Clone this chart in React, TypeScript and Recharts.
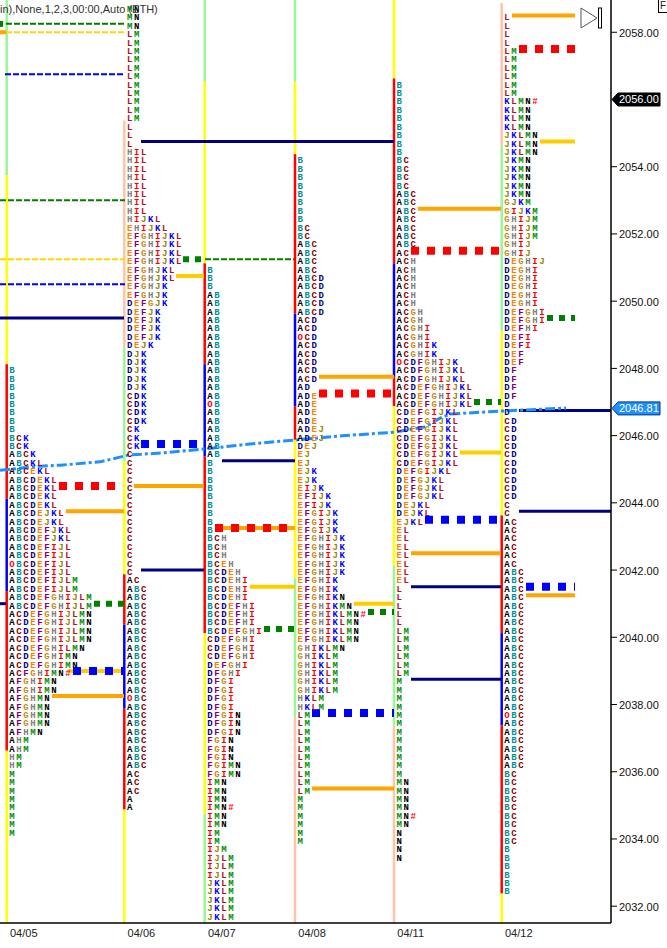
import { ComposedChart, Line, ReferenceLine, Scatter, XAxis, YAxis } from 'recharts';

const TICK_SIZE = 0.25;
const COLUMN = 7;

// x axis runs in chart units, one letter column is 7 units wide
const sessionDates = ['04/05', '04/06', '04/07', '04/08', '04/11', '04/12'];
const sessionStarts = [6.7, 124.3, 204.7, 295, 394, 501.7];
const priceTicks = [2032, 2034, 2036, 2038, 2040, 2042, 2044, 2046, 2046.81, 2048, 2050, 2052, 2054, 2056, 2058];
const tagColors: Record<string, string> = { '2056': '#000000', '2046.81': '#1e90ff' };

const letterColors: Record<string, string> = {
  A: '#000000', B: '#008f9c', C: '#8b0000', D: '#00008b', E: '#ff8000', F: '#800080', G: '#c88a10',
  H: '#808080', I: '#ff0000', J: '#8f8600', K: '#0000ff', L: '#b0102c', M: '#009000', N: '#000000',
  O: '#ff0000', '#': '#ff0000',
};

// Profile rows from the top price down: [letters, how many rows in a row]
const sessionTops = [2048, 2058.75, 2051, 2054.25, 2056.5, 2058.5];
const profile1: [string, number][] = [
  ['B', 8], ['BCK', 2], ['ABCK', 1], ['ABCKL', 1], ['ABCEKL', 1], ['ABCDEKL', 4], ['ABCDEJKL', 2], ['ABCDEFJKL', 2],
  ['ABCDEFIJL', 2], ['OBCDEFIJL', 1], ['ABCDEFIJL', 1], ['ABCDEFIJLM', 2], ['ABCDEFGHIJLM', 2], ['ACDEFGHIJLMN', 4],
  ['ACDEFGHILMN', 1], ['ACDEFGHIMN', 2], ['ACFGHIMN#', 1], ['AFGHIMN', 2], ['AFGHMN', 4], ['AFHMN', 1], ['AHM', 2],
  ['HM', 2], ['M', 8],
];
const profile2: [string, number][] = [
  ['MN', 3], ['LM', 11], ['L', 3], ['HIL', 8], ['HIJKL', 1], ['EHIJKL', 1], ['EFGHIJKL', 4], ['EFGHJKL', 2], ['EFGHJK', 2],
  ['DEFGJK', 1], ['DEFJK', 4], ['DEJK', 1], ['DJK', 5], ['CDK', 4], ['CK', 3],
  ['C', 15], ['AC', 1], ['ABC', 13], ['OBC', 1], ['ABC', 8], ['AC', 3], ['A', 2],
];
const profile3: [string, number][] = [
  ['B', 3], ['AB', 13], ['OB', 1], ['AB', 6], ['B', 9], ['BCH', 3], ['BCEH', 1], ['BCDEH', 1], ['BCDEHI', 3], ['BCDEFHI', 3],
  ['BCDEFGHI', 1], ['CDEFGHI', 3], ['DEFGHI', 1], ['DFGHI', 1], ['DFGI', 4], ['DFGIN', 3], ['FGIN', 3], ['FGIMN', 2],
  ['IMN', 3], ['IMN#', 1], ['IMN', 2], ['IM', 2], ['IJM', 1], ['IJLM', 3], ['JKLM', 5],
];
const profile4: [string, number][] = [
  ['B', 8], ['BC', 2], ['ABC', 4], ['ABCD', 5], ['ACD', 2], ['OCD', 1], ['ACD', 5], ['AD', 1], ['ADE', 4], ['ADEJ', 2],
  ['DEJ', 1], ['EJ', 2], ['EJK', 2], ['EIJK', 1], ['EFIJK', 2], ['EFGIJK', 3], ['EFGHIJK', 5], ['EFGHIK', 2], ['EFGHIKN', 1],
  ['EFGHIKMN', 1], ['EFGHIKLMN#', 1], ['EFGHIKLMN', 3], ['GHIKLMN', 1], ['GHIKLM', 5], ['HKLM', 2], ['LM', 10], ['M', 6],
];
const profile5: [string, number][] = [
  ['B', 9], ['BC', 4], ['ABC', 7], ['AC', 1], ['ACH', 6], ['ACGH', 2], ['ACGHI', 2], ['ACGHIK', 2], ['OCDFGHIJK', 1],
  ['ACDFGHIJKL', 2], ['ACDEFGHIJKL', 3], ['CDEFGIJKL', 7], ['DEFGIJKL', 1], ['DEFGJKL', 3], ['DEJKL', 2], ['EJKL', 1],
  ['EL', 7], ['L', 5], ['LM', 6], ['M', 12], ['MN', 4], ['MN#', 1], ['MN', 1], ['N', 4],
];
const profile6: [string, number][] = [
  ['L', 4], ['LM', 6], ['KLMN#', 1], ['KLMN', 3], ['JKLMN', 3], ['JKMN', 5], ['GJKM', 1], ['GIJKM', 1], ['GHIJM', 3], ['GHIJ', 2],
  ['DEGHIJ', 1], ['DEGHI', 5], ['DEFGHI', 2], ['DEFHI', 1], ['DEFI', 2], ['DEF', 2], ['DF', 4], ['D', 2], ['CD', 10], ['C', 2],
  ['AC', 6], ['ABC', 17], ['OBC', 1], ['ABC', 6], ['BC', 9], ['B', 6],
];
const profiles = [profile1, profile2, profile3, profile4, profile5, profile6];

// Coloured session bars: prices where the colour changes, then the colours
const barBreaks = [
  [2059, 2053.75, 2048.125, 2044.125, 2041.375, 2036.625, 2031.5],
  [2055.375, 2048.625, 2045.25, 2041.875, 2040.375, 2037.875, 2034.875, 2031.5],
  [2059, 2056.53, 2051.125, 2048.125, 2045.375, 2040.125, 2034.75, 2031.5],
  [2059, 2056.53, 2054.375, 2049.625, 2046.875, 2045.875, 2041.75, 2037.625, 2031.5],
  [2059, 2056.625, 2051.125, 2047.75, 2046.875, 2042.125, 2037.375, 2031.5],
  [2058.875, 2054.625, 2049.125, 2043.625, 2040.125, 2037.375, 2032.375, 2031.5],
];
const PEACH = '#ffc4a8';
const PALE = '#98f898';
const YEL = '#ffff00';
const RED = '#ff0000';
const BLU = '#0000ff';
const barColors = [
  [PALE, YEL, RED, BLU, RED, YEL],
  [PEACH, PALE, YEL, RED, BLU, RED, YEL],
  [PALE, YEL, RED, BLU, RED, YEL, PALE],
  [PALE, YEL, RED, BLU, RED, YEL, PALE, PEACH],
  [YEL, RED, BLU, RED, YEL, PALE, PEACH],
  [PEACH, PALE, YEL, RED, BLU, RED, YEL],
];

// Levels: [price, from x, to x]
type Level = [number, number, number];
const navyLevels: Level[] = [
  [2049.5, 0, 124], [2041, 0, 6], [2054.75, 141, 394], [2042, 141, 204], [2045.25, 222, 295], [2041.5, 411, 501],
  [2038.75, 411, 501], [2046.75, 519, 611], [2043.75, 519, 611],
];
const orangeLevels: Level[] = [
  [2058, 0, 6], [2043.75, 66, 124], [2038.25, 52, 124], [2044.5, 134, 204], [2043.25, 215, 295], [2047.75, 319, 394],
  [2035.5, 312, 394], [2052.75, 418, 501], [2042.5, 411, 501], [2058.5, 512, 575], [2041.25, 526, 575],
];
const goldLevels: Level[] = [
  [2039, 68, 124], [2050.75, 176, 204], [2041.5, 250, 295], [2041, 354, 394], [2045.5, 460, 501], [2054.75, 540, 575],
];
const redSquares: Level[] = [
  [2044.5, 59, 115], [2043.25, 215, 287], [2047.25, 319, 391], [2051.5, 411, 499], [2057.5, 519, 575],
];
const blueSquares: Level[] = [
  [2039, 73, 124], [2045.75, 141, 197], [2037.75, 312, 394], [2043.5, 425, 497], [2041.5, 526, 575],
];
const greenSquares: Level[] = [
  [2058.25, 0, 3], [2041, 94, 124], [2051.25, 183, 204], [2040.25, 264, 295], [2040.75, 368, 394], [2047, 474, 501],
  [2049.5, 547, 575],
];
const greenDashes: Level[] = [[2058.25, 6, 125], [2053, 0, 125], [2051.25, 205, 294]];
const goldDashes: Level[] = [[2058, 6, 125], [2051.25, 0, 125]];
const blueDashes: Level[] = [[2056.75, 5, 125], [2050.5, 0, 125]];

const vwapX = [0, 40, 60, 100, 120, 128, 165, 204, 250, 295, 345, 394, 425, 440, 450, 500, 566];
const vwapPrice = [
  2044.97, 2045.09, 2045.12, 2045.22, 2045.36, 2045.42, 2045.49, 2045.6, 2045.75, 2045.87, 2046, 2046.1, 2046.26, 2046.52,
  2046.64, 2046.73, 2046.82,
];

const letterPoints = profiles.flatMap((rows, s) => {
  let price = sessionTops[s];
  return rows.flatMap(([letters, count]) => {
    const out: { x: number; y: number; letter: string }[] = [];
    for (let r = 0; r < count; r++) {
      letters.split('').forEach((letter, i) => {
        out.push({ x: sessionStarts[s] + 5.3 + i * COLUMN, y: price, letter });
      });
      price -= TICK_SIZE;
    }
    return out;
  });
});
const vwapData = vwapX.map((x, i) => ({ x, y: vwapPrice[i] }));

function LetterMark(props: any) {
  const { cx, cy, payload } = props;
  return (
    <text
      x={cx}
      y={cy + 5}
      textAnchor="middle"
      fontFamily="'Liberation Mono'"
      fontWeight={700}
      fontSize={9}
      fill={letterColors[payload.letter]}
    >
      {payload.letter}
    </text>
  );
}

function PriceTick(props: any) {
  const { x, y, payload } = props;
  const tag = tagColors[String(payload.value)];
  if (tag) {
    return (
      <g>
        <polygon
          points={`${x + 1},${y} ${x + 7},${y - 6.5} ${x + 49},${y - 6.5} ${x + 49},${y + 6.5} ${x + 7},${y + 6.5}`}
          fill={tag}
          stroke={tag === '#000000' ? '#000000' : '#003a80'}
        />
        <text x={x + 8} y={y + 4} fontFamily="'Liberation Sans'" fontSize={11} fill="#ffffff">
          {payload.value.toFixed(2)}
        </text>
      </g>
    );
  }
  return (
    <g>
      <line x1={x} x2={x + 6} y1={y} y2={y} stroke="#000000" />
      <text x={x + 8} y={y + 4.5} fontFamily="'Liberation Sans'" fontSize={11} fill="#111111">
        {payload.value.toFixed(2)}
      </text>
    </g>
  );
}

function DateTick(props: any) {
  const { x, y, payload, index } = props;
  return (
    <text x={x + 3.3} y={y + 14} fontFamily="'Liberation Sans'" fontSize={11} fill="#222222">
      {sessionDates[index] ?? payload.value}
    </text>
  );
}

function levelLines(levels: Level[], name: string, stroke: string, width: number, dash?: string) {
  return levels.map(([price, from, to]) => (
    <ReferenceLine
      key={`${name}-${price}-${from}`}
      segment={[{ x: from, y: price }, { x: to, y: price }]}
      stroke={stroke}
      strokeWidth={width}
      strokeDasharray={dash}
      ifOverflow="visible"
    />
  ));
}

export default function App() {
  return (
    <div style={{ position: 'absolute', left: 0, top: 0, width: 667, height: 948, background: '#ffffff', overflow: 'hidden' }}>
      <ComposedChart width={667} height={948} margin={{ top: 0, right: 0, bottom: 0, left: 0 }}>
        <XAxis
          type="number"
          dataKey="x"
          domain={[0, 611]}
          allowDataOverflow
          ticks={sessionStarts}
          interval={0}
          tick={<DateTick />}
          tickLine={false}
          tickSize={0}
          tickMargin={0}
          height={25}
          axisLine={{ stroke: '#000000', strokeWidth: 1.5 }}
        />
        <YAxis
          type="number"
          dataKey="y"
          orientation="right"
          domain={[2031.5, 2058.96]}
          allowDataOverflow
          ticks={priceTicks}
          interval={0}
          tick={<PriceTick />}
          tickLine={false}
          tickSize={0}
          tickMargin={0}
          width={56}
          axisLine={{ stroke: '#000000', strokeWidth: 1.5 }}
        />
        {barColors.flatMap((colors, s) =>
          colors.map((color, i) => (
            <ReferenceLine
              key={`bar-${s}-${i}`}
              segment={[
                { x: sessionStarts[s], y: barBreaks[s][i] },
                { x: sessionStarts[s], y: barBreaks[s][i + 1] },
              ]}
              stroke={color}
              strokeWidth={2.5}
              ifOverflow="visible"
            />
          )),
        )}
        {levelLines(greenDashes, 'gd', '#008000', 2, '6 2')}
        {levelLines(goldDashes, 'yd', '#ffd700', 2, '6 2')}
        {levelLines(blueDashes, 'bd', '#0000ff', 2, '6 2')}
        {levelLines(navyLevels, 'navy', '#000080', 3)}
        {levelLines(orangeLevels, 'orange', '#ffa500', 4)}
        {levelLines(goldLevels, 'gold', '#ffcc00', 4)}
        {levelLines(greenSquares, 'gs', '#008000', 6, '6 6')}
        {levelLines(redSquares, 'rs', '#ff0000', 8, '8 8')}
        {levelLines(blueSquares, 'bs', '#0000ff', 8, '8 8')}
        <Scatter data={letterPoints} shape={<LetterMark />} isAnimationActive={false} />
        <Line
          data={vwapData}
          dataKey="y"
          dot={false}
          activeDot={false}
          stroke="#1e90ff"
          strokeWidth={3}
          strokeDasharray="10 3 3 3"
          isAnimationActive={false}
        />
      </ComposedChart>
      <div style={{ position: 'absolute', left: 0, top: 3, fontFamily: "'Liberation Sans'", fontSize: 11, color: '#333333', whiteSpace: 'nowrap' }}>
        in),None,1,2,3,00:00,Auto (ETH)
      </div>
      <svg width={24} height={24} style={{ position: 'absolute', left: 580, top: 6 }}>
        <polygon points="1,2 17,12 1,22" fill="#ffffff" stroke="#555555" />
        <rect x={18.5} y={2} width={3} height={20} fill="#ffffff" stroke="#000000" />
      </svg>
      <div style={{ position: 'absolute', left: 658, top: -1, width: 12, height: 12, border: '1px solid #000000', background: '#ffffff', fontFamily: "'Liberation Sans'", fontSize: 10, color: '#222222', paddingLeft: 1 }}>
        F
      </div>
    </div>
  );
}
